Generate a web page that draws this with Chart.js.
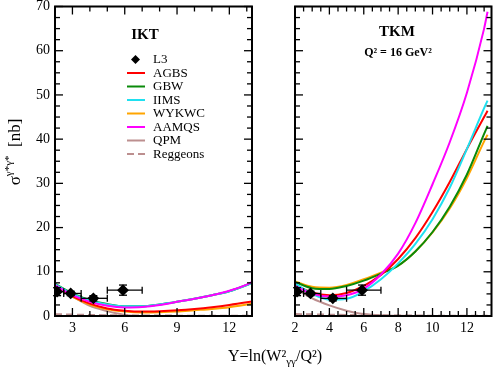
<!DOCTYPE html>
<html>
<head>
<meta charset="utf-8">
<script src="https://cdn.jsdelivr.net/npm/chart.js@4"></script>
<style>
  body { margin: 0; background: #fff; }
  #wrap { position: relative; width: 498px; height: 372px; }
  canvas { position: absolute; top: 0; }
  #izq { left: 0; }
  #der { left: 265px; }
  #xtitulo { position: absolute; left: 228px; top: 348px; font: 16px "Liberation Serif", serif; line-height: 16px; white-space: nowrap; }
  #xtitulo sub { font-size: 11px; vertical-align: -4px; }
</style>
</head>
<body>
<div id="wrap">
  <canvas id="izq" width="265" height="372"></canvas>
  <canvas id="der" width="233" height="372"></canvas>
  <div id="xtitulo">Y=ln(W²<sub>γγ</sub>/Q²)</div>
</div>
<script>
// datos

// panel IKT
const xIKT = [2, 3, 4, 5, 6, 7, 8, 9, 10, 11, 12, 13, 13.3];
const iktAGBS = [7.0, 4.5, 2.8, 1.7, 1.2, 1.0, 1.1, 1.3, 1.6, 2.0, 2.5, 3.1, 3.3];
const iktGBW = [7.3, 5.1, 3.6, 2.7, 2.2, 2.2, 2.6, 3.2, 3.9, 4.7, 5.6, 7.0, 7.5];
const iktIIMS = [7.2, 5.0, 3.5, 2.6, 2.2, 2.2, 2.6, 3.2, 3.9, 4.7, 5.6, 7.0, 7.5];
const iktWYKWC = [6.9, 4.4, 2.6, 1.5, 1.0, 0.8, 0.85, 1.0, 1.3, 1.6, 2.0, 2.6, 2.8];
const iktAAMQS = [7.0, 4.7, 3.2, 2.3, 1.95, 2.05, 2.5, 3.2, 3.9, 4.7, 5.7, 7.1, 7.7];
const xIKTqpm = [2, 3, 4, 5, 5.5, 6, 6.5, 7, 9, 13.3];
const iktQPM = [6.8, 4.4, 2.3, 1.1, 0.6, 0.25, 0.05, 0, 0, 0];
const xIKTreg = [2, 4, 6, 9, 13.3];
const iktReg = [0.4, 0.25, 0.15, 0.08, 0.05];

// panel TKM
const xTKM = [2, 3, 4, 5, 6, 7, 8, 9, 10, 11, 12, 13, 13.2];
const tkmAGBS = [7.0, 5.3, 4.7, 5.2, 6.8, 9.3, 12.9, 17.6, 23.5, 30.3, 37.8, 45.0, 46.4];
const tkmGBW = [7.7, 6.3, 6.1, 6.8, 8.0, 9.6, 11.4, 14.6, 19.0, 24.7, 32.0, 41.2, 43.0];
const tkmIIMS = [7.4, 5.0, 3.7, 3.9, 5.6, 8.3, 11.9, 16.3, 21.9, 29.0, 37.8, 47.0, 48.7];
const tkmWYKWC = [7.8, 6.6, 6.4, 7.0, 8.3, 9.8, 11.4, 14.6, 18.9, 24.3, 31.2, 39.5, 41.0];
const tkmAAMQS = [6.8, 5.0, 4.4, 4.7, 6.2, 9.4, 14.1, 21.0, 29.8, 39.3, 50.5, 65.0, 68.8];
const xTKMqpm = [2, 3, 4, 5, 5.5, 6, 7, 8, 9, 13.2];
const tkmQPM = [6.3, 4.0, 2.4, 1.2, 0.75, 0.45, 0.15, 0.03, 0, 0];
const xTKMreg = [2, 4, 6, 8, 10, 13.2];
const tkmReg = [0.45, 0.3, 0.2, 0.12, 0.08, 0.05];

// puntos L3
const l3X = [2.12, 2.9, 4.2, 5.9];
const l3Sigma = [5.5, 5.1, 4.0, 5.85];
const l3XLo = [2.0, 2.5, 3.5, 5.0];
const l3XHi = [2.5, 3.5, 5.0, 7.0];
const l3Err = [0.9, 0.5, 0.6, 1.15];

// ticks
const yTicks = [0, 10, 20, 30, 40, 50, 60, 70];
const iktTicks = [3, 6, 9, 12];
const tkmTicks = [2, 4, 6, 8, 10, 12];

const modelos = ['AGBS', 'GBW', 'IIMS', 'WYKWC', 'AAMQS'];
const colores = ['#ff0000', '#0a8a0a', '#1fe0f0', '#ffa500', '#ff00ff'];
const ordenDibujo = [3, 4, 2, 5, 1];
const colorQPM = '#bc8f8f';

Chart.defaults.font.family = '"Liberation Serif", serif';
Chart.defaults.font.size = 14;
Chart.defaults.color = '#000';

const pares = (xs, ys) => xs.map((v, i) => ({ x: v, y: ys[i] }));

function armarDatasets(xs, series, xq, qpm, xr, reg) {
  const l3 = {
    label: 'L3',
    data: l3X.map((v, i) => ({ x: v, y: l3Sigma[i], xMin: l3XLo[i], xMax: l3XHi[i], err: l3Err[i] })),
    showLine: false, pointStyle: 'rectRot', pointRadius: 4.5,
    backgroundColor: '#000', borderColor: '#000', order: 0
  };
  const lineas = series.map((s, i) => ({
    label: modelos[i], data: pares(xs, s), borderColor: colores[i], order: ordenDibujo[i]
  }));
  const q = { label: 'QPM', data: pares(xq, qpm), borderColor: colorQPM, order: 6 };
  const r = { label: 'Reggeons', data: pares(xr, reg), borderColor: colorQPM, borderDash: [7, 4], order: 7 };
  return [l3, ...lineas, q, r];
}

function escalas(xmax, xticks, conY) {
  return {
    x: {
      type: 'linear', min: 2, max: xmax,
      grid: { display: false, drawTicks: false }, border: { display: false },
      ticks: { padding: 4 },
      afterBuildTicks: s => { s.ticks = xticks.map(v => ({ value: v })); },
      afterFit: s => { s.height = 30; s.paddingLeft = 0; s.paddingRight = 0; }
    },
    y: {
      type: 'linear', min: 0, max: 70,
      grid: { display: false, drawTicks: false }, border: { display: false },
      ticks: { display: conY, padding: 5 },
      afterBuildTicks: s => { s.ticks = yTicks.map(v => ({ value: v })); },
      afterFit: s => { s.width = conY ? 55 : 30; s.paddingTop = 0; s.paddingBottom = 0; }
    }
  };
}

// marco, ticks hacia adentro y barras de error
const marco = {
  id: 'marco',
  afterDatasetsDraw(chart, args, opts) {
    const { ctx, chartArea: a, scales: { x, y } } = chart;
    ctx.save();
    ctx.strokeStyle = '#000';
    ctx.lineWidth = 1.3;
    const seg = (x1, y1, x2, y2) => { ctx.beginPath(); ctx.moveTo(x1, y1); ctx.lineTo(x2, y2); ctx.stroke(); };

    // barras de error L3
    const ds = chart.data.datasets[0];
    ds.data.forEach(p => {
      const px = x.getPixelForValue(p.x), py = y.getPixelForValue(p.y);
      const x1 = x.getPixelForValue(p.xMin), x2 = x.getPixelForValue(p.xMax);
      const y1 = y.getPixelForValue(p.y + p.err), y2 = y.getPixelForValue(p.y - p.err);
      seg(x1, py, x2, py);
      seg(x1, py - 3.5, x1, py + 3.5);
      seg(x2, py - 3.5, x2, py + 3.5);
      seg(px, y1, px, y2);
      seg(px - 4, y1, px + 4, y1);
      seg(px - 4, y2, px + 4, y2);
    });

    // ticks
    for (let v = 2; v <= x.max + 1e-9; v += opts.xMenor) {
      const p = x.getPixelForValue(v);
      const largo = opts.xMayor.includes(Math.round(v * 100) / 100) ? 8 : 5;
      seg(p, a.bottom, p, a.bottom - largo);
      seg(p, a.top, p, a.top + largo);
    }
    for (let v = 0; v <= 70; v += 2.5) {
      const p = y.getPixelForValue(v);
      const largo = v % 10 === 0 ? 8 : 5;
      seg(a.left, p, a.left + largo, p);
      seg(a.right, p, a.right - largo, p);
    }
    ctx.lineWidth = 2;
    ctx.strokeRect(a.left, a.top, a.right - a.left, a.bottom - a.top);

    // textos del panel
    ctx.fillStyle = '#000';
    ctx.textAlign = 'center';
    ctx.textBaseline = 'middle';
    opts.textos.forEach(t => { ctx.font = t.f; ctx.fillText(t.s, t.x, t.y); });
    ctx.restore();
  }
};

// leyenda y titulo del eje y (solo panel izquierdo)
const leyenda = {
  id: 'leyenda',
  afterDraw(chart) {
    const ctx = chart.ctx;
    ctx.save();
    ctx.font = '13px "Liberation Serif"';
    ctx.textBaseline = 'middle';
    ctx.textAlign = 'left';
    chart.data.datasets.forEach((d, i) => {
      const yy = 59.5 + i * 13.5;
      if (d.showLine === false) {
        ctx.fillStyle = '#000';
        ctx.beginPath();
        ctx.moveTo(135.5, yy - 4.5); ctx.lineTo(140, yy); ctx.lineTo(135.5, yy + 4.5); ctx.lineTo(131, yy);
        ctx.closePath(); ctx.fill();
      } else {
        ctx.strokeStyle = d.borderColor;
        ctx.lineWidth = 2;
        ctx.setLineDash(d.borderDash || []);
        ctx.beginPath(); ctx.moveTo(127, yy); ctx.lineTo(145, yy); ctx.stroke();
        ctx.setLineDash([]);
      }
      ctx.fillStyle = '#000';
      ctx.fillText(d.label, 153, yy + 0.5);
    });

    // sigma^{gamma* gamma*} [nb]
    ctx.translate(20, 152);
    ctx.rotate(-Math.PI / 2);
    ctx.textBaseline = 'alphabetic';
    const grande = '17px "Liberation Serif"', chica = '11px "Liberation Serif"';
    ctx.font = grande; const w1 = ctx.measureText('σ').width;
    ctx.font = chica; const w2 = ctx.measureText('γ*γ*').width;
    ctx.font = grande; const w3 = ctx.measureText('  [nb]').width;
    let cx = -(w1 + w2 + w3) / 2;
    ctx.fillText('σ', cx, 0); cx += w1;
    ctx.font = chica; ctx.fillText('γ*γ*', cx, -8); cx += w2;
    ctx.font = grande; ctx.fillText('  [nb]', cx, 0);
    ctx.restore();
  }
};

const opcionesBase = {
  responsive: false,
  animation: false,
  events: [],
  datasets: { line: { borderWidth: 2, pointRadius: 0, cubicInterpolationMode: 'monotone', fill: false } },
  plugins: { legend: { display: false }, tooltip: { enabled: false } }
};

new Chart(document.getElementById('izq'), {
  type: 'line',
  data: { datasets: armarDatasets(xIKT, [iktAGBS, iktGBW, iktIIMS, iktWYKWC, iktAAMQS], xIKTqpm, iktQPM, xIKTreg, iktReg) },
  options: {
    ...opcionesBase,
    layout: { padding: { left: 0, top: 5, right: 13, bottom: 26 } },
    scales: escalas(13.3, iktTicks, true),
    plugins: {
      ...opcionesBase.plugins,
      marco: { xMayor: iktTicks, xMenor: 1, textos: [{ s: 'IKT', x: 145, y: 35, f: 'bold 15px "Liberation Serif"' }] }
    }
  },
  plugins: [marco, leyenda]
});

new Chart(document.getElementById('der'), {
  type: 'line',
  data: { datasets: armarDatasets(xTKM, [tkmAGBS, tkmGBW, tkmIIMS, tkmWYKWC, tkmAAMQS], xTKMqpm, tkmQPM, xTKMreg, tkmReg) },
  options: {
    ...opcionesBase,
    layout: { padding: { left: 0, top: 5, right: 3, bottom: 26 } },
    scales: escalas(13.43, tkmTicks, false),
    plugins: {
      ...opcionesBase.plugins,
      marco: {
        xMayor: tkmTicks, xMenor: 0.5,
        textos: [
          { s: 'TKM', x: 132, y: 32, f: 'bold 15px "Liberation Serif"' },
          { s: 'Q² = 16 GeV²', x: 133, y: 53, f: 'bold 12px "Liberation Serif"' }
        ]
      }
    }
  },
  plugins: [marco]
});
</script>
</body>
</html>
